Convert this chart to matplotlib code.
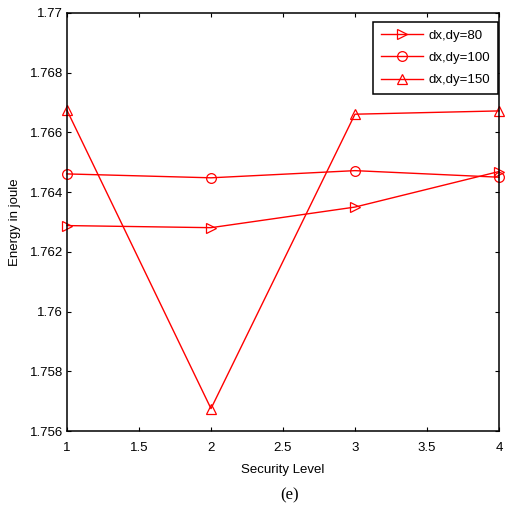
import matplotlib
matplotlib.use('Agg')
import matplotlib.pyplot as plt

# security levels on the x axis
levels = [1, 2, 3, 4]

# energy readings (joule) per grid spacing
energy_80 = [1.76288, 1.76281, 1.76350, 1.76469]
energy_100 = [1.76461, 1.76448, 1.76472, 1.76450]
energy_150 = [1.76674, 1.75675, 1.76661, 1.76672]

series_labels = ['dx,dy=80', 'dx,dy=100', 'dx,dy=150']
series_markers = ['>', 'o', '^']

x_ticks = [1, 1.5, 2, 2.5, 3, 3.5, 4]
x_ticklabels = ['1', '1.5', '2', '2.5', '3', '3.5', '4']
y_ticks = [1.756, 1.758, 1.76, 1.762, 1.764, 1.766, 1.768, 1.77]
y_ticklabels = ['1.756', '1.758', '1.76', '1.762', '1.764', '1.766', '1.768', '1.77']

plt.rcParams['font.family'] = ['Liberation Sans', 'DejaVu Sans']

fig = plt.figure(figsize=(5.05, 5.17), dpi=100)
fig.patch.set_facecolor('white')
ax = fig.add_axes([0.1327, 0.1663, 0.8553, 0.8086])

for data, label, marker in zip([energy_80, energy_100, energy_150], series_labels, series_markers):
    ax.plot(levels, data, color='#ff0000', linewidth=1.0, marker=marker,
            markersize=7, markerfacecolor='none', markeredgecolor='#ff0000',
            markeredgewidth=0.9, label=label, clip_on=False)

ax.set_xlim(1, 4)
ax.set_ylim(1.756, 1.77)
ax.set_xticks(x_ticks)
ax.set_xticklabels(x_ticklabels)
ax.set_yticks(y_ticks)
ax.set_yticklabels(y_ticklabels)
ax.tick_params(direction='in', top=True, right=True, length=3, width=0.8,
               labelsize=9.5, colors='black')
ax.tick_params(axis='x', pad=8)
ax.tick_params(axis='y', pad=3)
for side in ['top', 'bottom', 'left', 'right']:
    ax.spines[side].set_linewidth(1.1)
    ax.spines[side].set_color('black')

ax.set_xlabel('Security Level', fontsize=9.5, labelpad=7)
ax.set_ylabel('Energy in joule', fontsize=9.5, labelpad=6)

leg = ax.legend(loc='upper right', bbox_to_anchor=(1.0, 0.982), fontsize=9.5,
                fancybox=False, framealpha=1, edgecolor='black',
                handlelength=3.2, borderpad=0.6, labelspacing=0.75,
                handletextpad=0.4, borderaxespad=0.1)
leg.get_frame().set_linewidth(1.1)

fig.text(0.574, 0.042, '(e)', ha='center', va='center', fontsize=12,
         family=['Liberation Serif', 'DejaVu Serif'])

plt.savefig('out.png', dpi=100, facecolor=fig.get_facecolor())
plt.close(fig)
